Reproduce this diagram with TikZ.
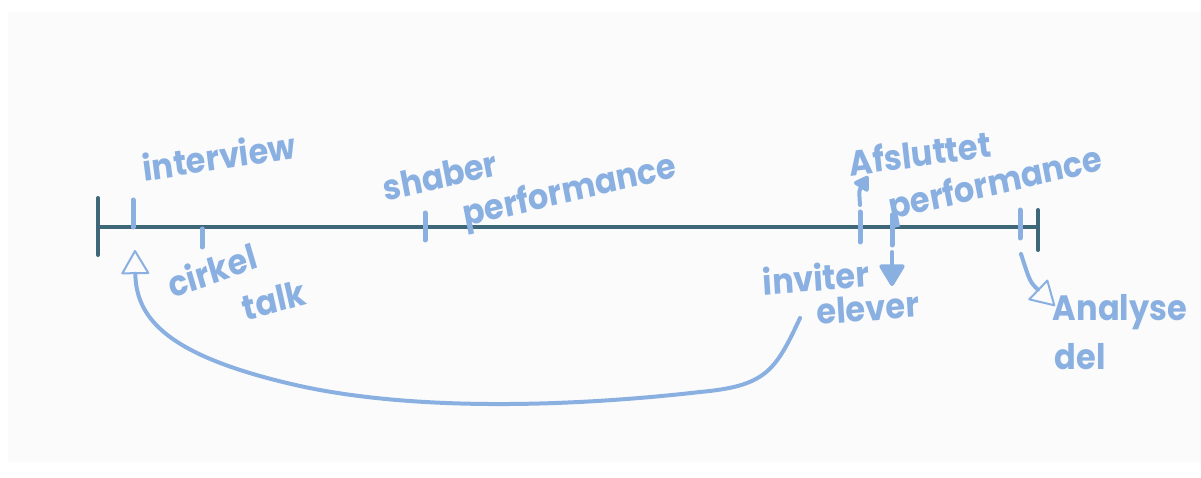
\documentclass[tikz,border=0pt]{standalone}
\usepackage{fontspec}
\setmainfont{Poppins}
\usetikzlibrary{arrows.meta}
\definecolor{bluepen}{RGB}{138,176,226}
\definecolor{tealpen}{RGB}{62,104,122}
\definecolor{bgpaper}{RGB}{251,251,252}
\tikzset{
  axisline/.style={draw=tealpen,line width=4pt,line cap=round},
  tickmark/.style={draw=bluepen,line width=5pt,line cap=round},
  pen/.style={draw=bluepen,line width=4pt,line cap=round},
  hand/.style={text=bluepen,font=\fontsize{32}{32}\selectfont\bfseries,inner sep=0pt,yscale=1.1},
  handhead/.style={-{Triangle[open,scale=1.7,line width=2pt,round]}},
  solidhead/.style={-{Triangle[scale=1.6,round]}},
}
\begin{document}
\begin{tikzpicture}[x=1pt,y=-1pt]
\useasboundingbox (0,0) rectangle (1201,478);
\fill[white] (0,0) rectangle (1201,478);
\fill[bgpaper] (8,12) rectangle (1201,462);
% timeline
\coordinate (L) at (98,227);
\coordinate (R) at (1038,227);
\draw[axisline] (L) -- (R);
\draw[axisline] (98,198) -- (98,255);
\draw[axisline] (1038,210) -- (1038,250);
% ticks
\coordinate (t1) at (133,200);
\coordinate (t2) at (202,247);
\coordinate (t3) at (425,213);
\coordinate (t4) at (860,212);
\coordinate (t5) at (892,215);
\coordinate (t6) at (1020,210);
\draw[tickmark] (t1) -- (133,227);
\draw[tickmark] (202,229) -- (t2);
\draw[tickmark] (t3) -- (425,240);
\draw[tickmark] (t4) -- (860,242);
\draw[tickmark] (t5) -- (892,245);
\draw[tickmark] (t6) -- (1020,238);
% labels
\node[hand,rotate=8] (interview) at (219,156) {interview};
\node[hand,rotate=18] (cirkel) at (212,270) {cirkel};
\node[hand,rotate=14] (talk) at (274,300) {talk};
\node[hand,rotate=12] (shaber) at (440,176) {shaber};
\node[hand,rotate=12] (perf1) at (570,193) {performance};
\node[hand,rotate=7] (afsl) at (920,153) {Afsluttet};
\node[hand,rotate=12] (perf2) at (996,186) {performance};
\node[hand,rotate=4] (inviter) at (816,277) {inviter};
\node[hand,rotate=4] (elever) at (868,308) {elever};
\node[hand] (analyse) at (1120,312) {Analyse};
\node[hand] (del) at (1080,357) {del};
% arrows
\coordinate (a1s) at (860,205);
\coordinate (a1e) at (868,176);
\draw[pen,-{Triangle[scale=1.1,round]}] (a1s) .. controls (859,190) .. (a1e);
\coordinate (a2s) at (892,252);
\coordinate (a2e) at (892,286);
\draw[pen,solidhead] (a2s) -- (a2e);
\coordinate (a3s) at (1021,254);
\coordinate (a3e) at (1055,306);
\draw[pen,handhead] (a3s) .. controls (1030,282) .. (a3e);
\coordinate (b1) at (800,318);
\coordinate (b2) at (135,250);
\draw[pen,handhead] (b1) .. controls (775,372) and (765,386) .. (700,392)
  .. controls (560,408) and (410,410) .. (300,386)
  .. controls (170,357) and (136,320) .. (b2);
\end{tikzpicture}
\end{document}
